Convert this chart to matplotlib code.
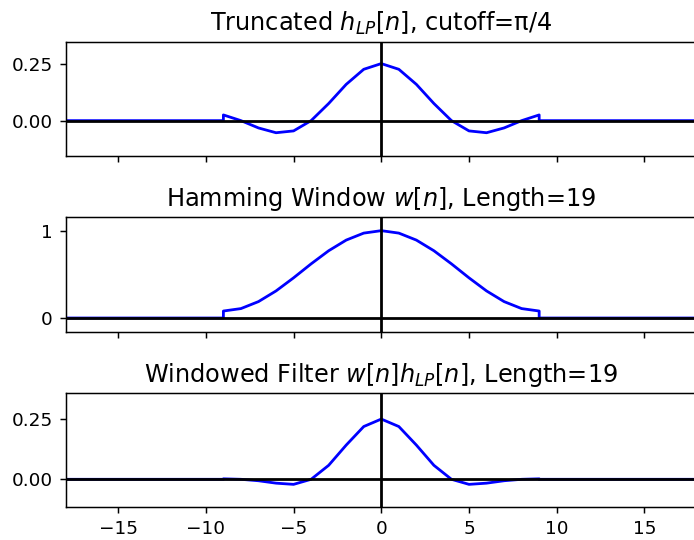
import numpy as np
import matplotlib
matplotlib.use("Agg")
import matplotlib.pyplot as plt

# sample index, nonzero part -9..9
n = list(range(-9, 10))

# truncated ideal lowpass, cutoff pi/4
h_half = [0.25, 0.225, 0.159, 0.075, 0.0, -0.045, -0.053, -0.032, 0.0, 0.025]
# hamming window, length 19
w_half = [1.0, 0.972, 0.892, 0.77, 0.62, 0.46, 0.31, 0.188, 0.108, 0.08]
# windowed filter
hw_half = [0.25, 0.219, 0.142, 0.058, 0.0, -0.021, -0.016, -0.006, 0.0, 0.002]

def mirror(half):
    return half[:0:-1] + half

h_lp = mirror(h_half)
w = mirror(w_half)
h_win = mirror(hw_half)

def padded(vals):
    # zeros out to +-18, with the jump at the window edges
    x = [-18, -9] + n + [9, 18]
    y = [0.0, 0.0] + vals + [0.0, 0.0]
    return x, y

dpi = 133.33
fig = plt.figure(figsize=(694 / dpi, 540 / dpi), dpi=dpi)
left = 0.0944
width = 0.91
ax1 = fig.add_axes([left, 0.7111, width, 0.2117])
ax2 = fig.add_axes([left, 0.3852, width, 0.2124], sharex=ax1)
ax3 = fig.add_axes([left, 0.0602, width, 0.2115], sharex=ax1)

panels = [
    (ax1, h_lp, r'Truncated $h_{LP}[n]$, cutoff=π/4', (-0.155, 0.346), [0.0, 0.25]),
    (ax2, w, r'Hamming Window $w[n]$, Length=19', (-0.16, 1.153), [0, 1]),
    (ax3, h_win, r'Windowed Filter $w[n]h_{LP}[n]$, Length=19', (-0.117, 0.357), [0.0, 0.25]),
]

for ax, vals, title, ylim, yt in panels:
    x, y = padded(vals)
    ax.plot(x, y, color='blue', lw=1.5)
    ax.axhline(0, color='k', lw=1.5)
    ax.axvline(0, color='k', lw=1.5)
    ax.set_title(title, fontsize=13)
    ax.set_ylim(ylim)
    ax.set_yticks(yt)
    ax.set_xlim(-18, 18)

ax1.set_yticklabels(['0.00', '0.25'])
ax3.set_yticklabels(['0.00', '0.25'])
ax2.set_yticklabels(['0', '1'])
ax1.tick_params(labelbottom=False)
ax2.tick_params(labelbottom=False)
ax3.set_xticks([-15, -10, -5, 0, 5, 10, 15])

fig.savefig('out.png', dpi=dpi)
